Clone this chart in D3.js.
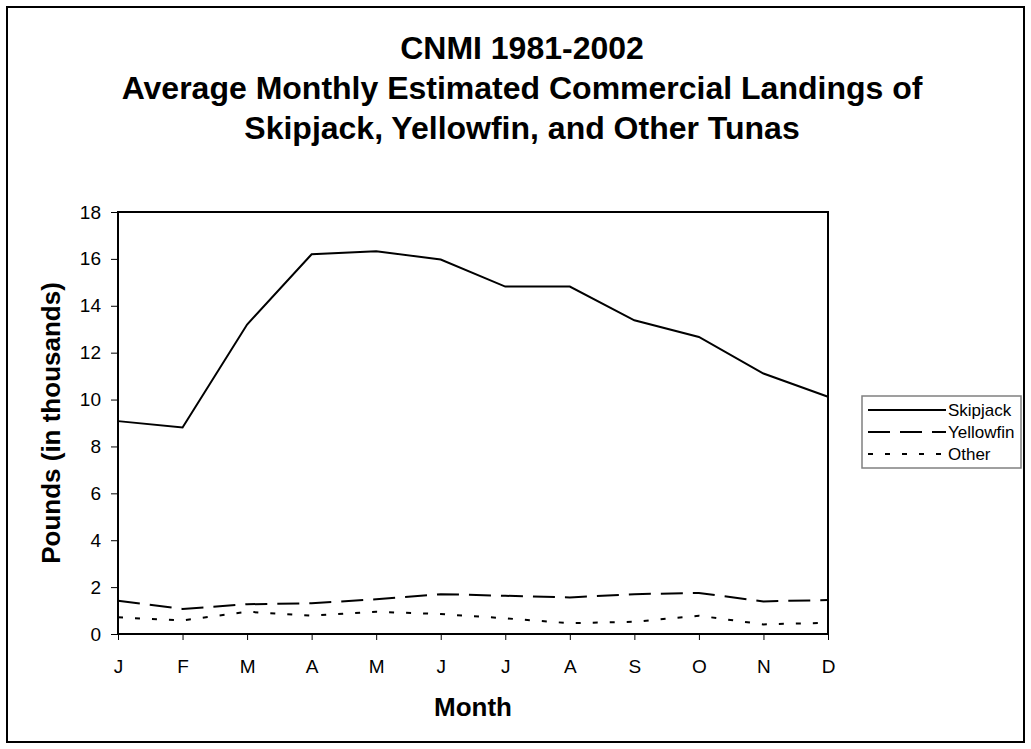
<!DOCTYPE html>
<html>
<head>
<meta charset="utf-8">
<script src="https://cdn.jsdelivr.net/npm/d3@7"></script>
<style>
  body { margin: 0; background: #fff; }
  svg { display: block; font-family: "Liberation Sans", Arial, sans-serif; }
</style>
</head>
<body>
<svg id="chart"></svg>
<script>
// Month labels along the x axis
const months = ["J", "F", "M", "A", "M", "J", "J", "A", "S", "O", "N", "D"];

// Values in thousands of pounds
const skipjack  = [9.08, 8.81, 13.2, 16.2, 16.33, 15.97, 14.82, 14.82, 13.38, 12.67, 11.11, 10.12];
const yellowfin = [1.42, 1.07, 1.27, 1.31, 1.48, 1.70, 1.63, 1.56, 1.70, 1.75, 1.39, 1.45];
const other     = [0.71, 0.58, 0.95, 0.78, 0.95, 0.85, 0.67, 0.46, 0.52, 0.78, 0.41, 0.48];

const yTicks = [0, 2, 4, 6, 8, 10, 12, 14, 16, 18];
const titleLines = [
    "CNMI 1981-2002",
    "Average Monthly Estimated Commercial Landings of",
    "Skipjack, Yellowfin, and Other Tunas"
];

const series = [
    { name: "Skipjack", values: skipjack, dash: null },
    { name: "Yellowfin", values: yellowfin, dash: "22,10" },
    { name: "Other", values: other, dash: "5,12" }
];

// Dimensions
const width = 1031;
const height = 749;
const marginLeft = 118;
const marginRight = 203;
const marginTop = 212;
const marginBottom = 115;

const svg = d3.select("#chart")
    .attr("width", width)
    .attr("height", height)
    .attr("viewBox", [0, 0, width, height]);

// outer frame
svg.append("rect")
    .attr("x", 7).attr("y", 7)
    .attr("width", 1017).attr("height", 735)
    .attr("fill", "none")
    .attr("stroke", "#000")
    .attr("stroke-width", 2);

// x is a point scale by index so repeated month letters stay apart
const x = d3.scalePoint(d3.range(months.length), [marginLeft, width - marginRight]);
const y = d3.scaleLinear([0, 18], [height - marginBottom, marginTop]);

// Title
svg.append("text")
    .attr("x", 522)
    .attr("y", 59)
    .attr("text-anchor", "middle")
    .attr("font-size", 32)
    .attr("font-weight", "bold")
    .selectAll("tspan")
    .data(titleLines)
    .join("tspan")
    .attr("x", 522)
    .attr("dy", (_, i) => i ? 40 : 0)
    .text(d => d);

// y axis
svg.append("g")
    .attr("transform", `translate(${marginLeft},0)`)
    .call(d3.axisLeft(y).tickValues(yTicks).tickSize(7).tickPadding(10))
    .call(g => g.select(".domain").remove())
    .call(g => g.selectAll("text")
        .attr("font-size", 19)
        .attr("font-family", "Liberation Sans, Arial, sans-serif")
        .attr("fill", "#000"));

// x axis
svg.append("g")
    .attr("transform", `translate(0,${height - marginBottom})`)
    .call(d3.axisBottom(x).tickFormat(i => months[i]).tickSize(6).tickPadding(20))
    .call(g => g.select(".domain").remove())
    .call(g => g.selectAll("text")
        .attr("font-size", 19)
        .attr("font-family", "Liberation Sans, Arial, sans-serif")
        .attr("fill", "#000"));

// plot frame
svg.append("rect")
    .attr("x", marginLeft)
    .attr("y", marginTop)
    .attr("width", width - marginLeft - marginRight)
    .attr("height", height - marginTop - marginBottom)
    .attr("fill", "none")
    .attr("stroke", "#000")
    .attr("stroke-width", 2);

// lines
const line = d3.line()
    .x((d, i) => x(i))
    .y(d => y(d));

svg.append("g")
    .selectAll("path")
    .data(series)
    .join("path")
    .attr("fill", "none")
    .attr("stroke", "#000")
    .attr("stroke-width", 2)
    .attr("stroke-dasharray", d => d.dash)
    .attr("d", d => line(d.values));

// axis titles
svg.append("text")
    .attr("x", (marginLeft + width - marginRight) / 2)
    .attr("y", 716)
    .attr("text-anchor", "middle")
    .attr("font-size", 26)
    .attr("font-weight", "bold")
    .text("Month");

svg.append("text")
    .attr("transform", `translate(60,${(marginTop + height - marginBottom) / 2}) rotate(-90)`)
    .attr("text-anchor", "middle")
    .attr("font-size", 26)
    .attr("font-weight", "bold")
    .text("Pounds (in thousands)");

// legend
const legend = svg.append("g").attr("transform", "translate(862,396)");
legend.append("rect")
    .attr("width", 159).attr("height", 72)
    .attr("fill", "#fff")
    .attr("stroke", "#808080")
    .attr("stroke-width", 1.5);

const item = legend.selectAll("g.item")
    .data(series)
    .join("g")
    .attr("class", "item")
    .attr("transform", (_, i) => `translate(0,${14 + i * 22})`);

item.append("line")
    .attr("x1", 6).attr("x2", 84)
    .attr("stroke", "#000")
    .attr("stroke-width", 2)
    .attr("stroke-dasharray", d => d.dash);

item.append("text")
    .attr("x", 86)
    .attr("dy", "0.35em")
    .attr("font-size", 17)
    .text(d => d.name);
</script>
</body>
</html>
